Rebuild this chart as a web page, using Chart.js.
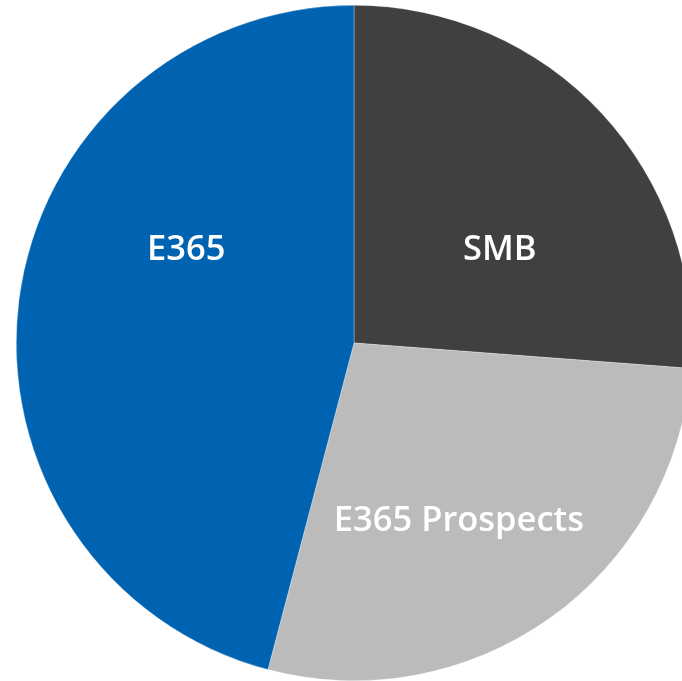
<!DOCTYPE html>
<html>
<head>
<meta charset="utf-8">
<title>Segments</title>
<script src="https://cdn.jsdelivr.net/npm/chart.js@4/dist/chart.umd.min.js"></script>
<style>
    html, body { margin: 0; padding: 0; background: #fff; overflow: hidden; width: 682px; height: 681px; }
    #wrap { position: absolute; left: 16px; top: 5px; width: 676px; height: 676px; }
</style>
</head>
<body>
<div id="wrap"><canvas id="pieChart" width="676" height="676"></canvas></div>
<script>
// === datos del gráfico ===
const categorias = ['SMB', 'E365 Prospects', 'E365'];
const valores = [26.2, 27.9, 45.9];
const colores = ['#404040', '#BBBBBB', '#0063B1'];

// posición de cada etiqueta: ángulo (grados desde arriba, horario) y fracción del radio
const posEtiquetas = [
    { angulo: 57.5, radio: 0.512 },
    { angulo: 149.5, radio: 0.612 },
    { angulo: 299, radio: 0.568 }
];

// plugin simple para escribir el nombre dentro de cada porción
const etiquetasPlugin = {
    id: 'etiquetas',
    afterDatasetsDraw(chart) {
        const ctx = chart.ctx;
        const meta = chart.getDatasetMeta(0);
        ctx.save();
        ctx.fillStyle = '#ffffff';
        ctx.font = '600 34.5px "Open Sans", "Noto Sans", sans-serif';
        ctx.textAlign = 'center';
        ctx.textBaseline = 'middle';
        meta.data.forEach((arc, i) => {
            const p = posEtiquetas[i];
            const a = (p.angulo - 90) * Math.PI / 180;
            const r = arc.outerRadius * p.radio;
            ctx.fillText(categorias[i], arc.x + Math.cos(a) * r, arc.y + Math.sin(a) * r);
        });
        ctx.restore();
    }
};

new Chart(document.getElementById('pieChart').getContext('2d'), {
    type: 'pie',
    data: {
        labels: categorias,
        datasets: [{
            data: valores,
            backgroundColor: colores,
            borderColor: 'rgba(255,255,255,0.6)',
            borderWidth: 0.5
        }]
    },
    options: {
        responsive: false,
        animation: false,
        devicePixelRatio: 1,
        layout: { padding: 0 },
        plugins: {
            legend: { display: false },
            tooltip: { enabled: false }
        }
    },
    plugins: [etiquetasPlugin]
});
</script>
</body>
</html>
